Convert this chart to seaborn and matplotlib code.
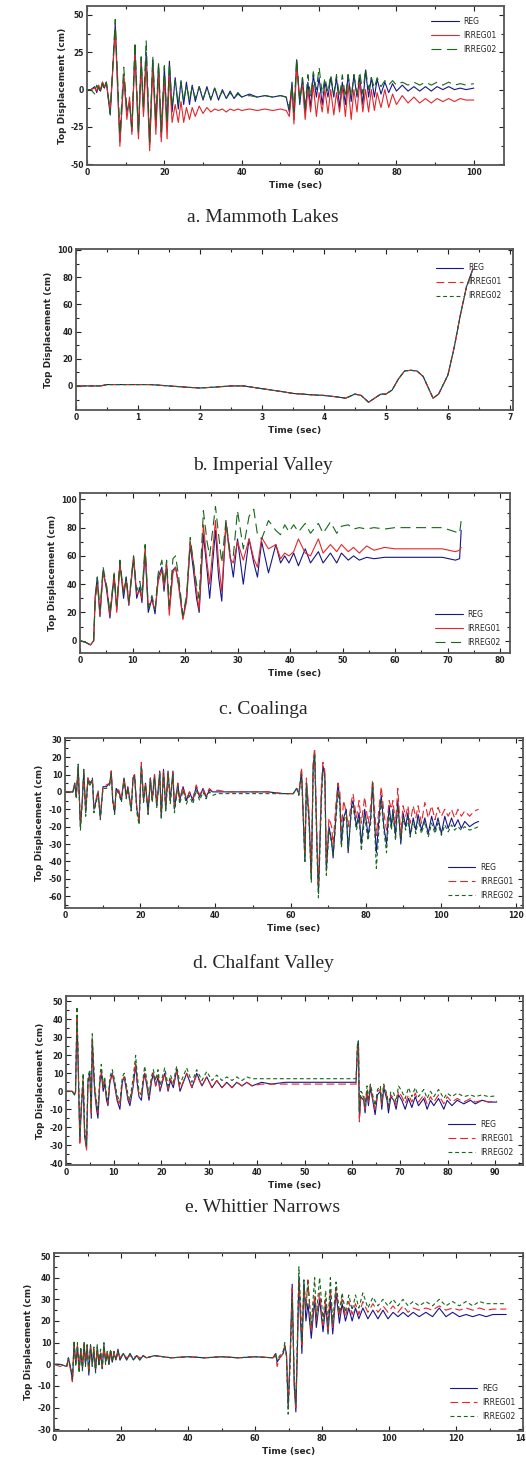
import matplotlib
matplotlib.use("Agg")
import matplotlib.pyplot as plt
import pandas as pd
import seaborn as sns
from matplotlib.ticker import MultipleLocator

sns.set_style("ticks")
plt.rcParams['font.family'] = ['DejaVu Sans']
plt.rcParams['axes.unicode_minus'] = False

# ---------------- a. Mammoth Lakes ----------------
a_time = [0, 1, 2, 2.5, 3, 3.5, 4, 4.5, 5, 6,
          7.3, 8.5, 9.5, 10.3, 11, 11.6, 12.4, 13.3, 14, 14.6,
          15.3, 16.2, 17, 17.8, 18.5, 19.2, 20, 20.7, 21.3, 22,
          22.8, 23.6, 24.3, 25, 25.7, 26.5, 27.2, 28, 29, 30,
          31, 32, 33, 34, 35, 36, 37, 38, 39, 40,
          42, 44, 46, 48, 50, 51.5, 52.3, 53, 53.5, 54.2,
          55, 55.7, 56.4, 57.1, 57.8, 58.5, 59.3, 60, 60.8, 61.5,
          62.3, 63, 63.8, 64.5, 65.3, 66, 66.8, 67.5, 68.3, 69,
          69.8, 70.5, 71.3, 72, 72.8, 73.5, 74.3, 75, 76, 77,
          78, 79, 80, 81.5, 83, 84.5, 86, 87.5, 89, 90.5,
          92, 93.5, 95, 96.5, 98, 100]
a_reg = [0, 0, 2, -2, 2, -1, 5, 1, 5, -17,
         44, -35, 8, -15, -8, -28, 27, -30, 20, -15,
         25, -37, 20, -25, 17, -32, 15, -25, 19, -15,
         8, -13, 6, -10, 5, -10, 3, -8, 2, -7,
         2, -7, 1, -7, 0, -6, -1, -6, -2, -5,
         -3, -5, -4, -5, -4, -5, -15, 5, -20, 20,
         -10, 8, -15, 5, -12, 10, -5, 8, -10, 5,
         -5, 8, -5, 8, -12, 5, -10, 10, -8, 10,
         -5, 8, -10, 13, -5, 8, -5, 7, -3, 5,
         -2, 4, -1, 3, -1, 2, -1, 2, -1, 2,
         0, 2, 0, 1, 0, 1]
a_irreg01 = [0, 0, 1, -1, 3, 0, 5, 2, 5, -14,
             40, -38, 10, -20, -5, -30, 25, -33, 18, -18,
             18, -41, 15, -30, 12, -35, 8, -33, 10, -22,
             -10, -22, -8, -22, -12, -20, -12, -18, -11, -16,
             -12, -15, -13, -14, -13, -15, -13, -14, -13, -14,
             -13, -14, -13, -14, -13, -14, -18, 0, -23, 15,
             -5, 3, -20, 0, -15, 3, -18, -2, -15, 0,
             -16, 0, -17, -2, -15, 2, -18, 3, -20, 0,
             -15, 5, -15, 0, -15, 0, -14, -2, -12, 0,
             -12, -3, -10, -4, -9, -5, -9, -6, -9, -6,
             -8, -6, -8, -6, -7, -7]
a_irreg02 = [0, 0, -3, 3, 1, -2, 4, 0, 5, -16,
             47, -30, 15, -12, -10, -25, 32, -28, 22, -12,
             33, -35, 22, -20, 18, -28, 16, -22, 18, -12,
             6, -10, 5, -8, 3, -7, 2, -6, 2, -6,
             1, -6, 1, -6, -1, -6, -2, -6, -3, -5,
             -4, -5, -4, -5, -4, -5, -12, 3, -15, 21,
             -8, 8, -12, 10, -5, 12, 0, 15, -3, 8,
             -2, 10, -3, 10, -5, 10, -5, 10, -5, 10,
             -3, 12, -3, 14, 0, 8, 1, 8, 2, 6,
             3, 6, 3, 5, 3, 5, 3, 5, 3, 5,
             3, 5, 3, 4, 3, 4]

# ---------------- b. Imperial Valley ----------------
b_time = [0, 0.4, 0.5, 1.0, 1.2, 1.5, 1.8, 2.0, 2.2, 2.5,
          2.7, 3.0, 3.3, 3.5, 3.8, 4.0, 4.2, 4.35, 4.5, 4.6,
          4.72, 4.85, 4.92, 5.0, 5.1, 5.2, 5.3, 5.4, 5.5, 5.6,
          5.7, 5.76, 5.85, 6.0, 6.1, 6.2, 6.3, 6.4]
b_reg = [0, 0, 1, 1, 1, 0, -1, -1.5, -1, 0,
         0, -2, -4, -5.5, -6.5, -7, -8, -9, -6, -7,
         -12, -8, -6, -6, -3, 5, 11, 11.5, 11, 7,
         -3, -9, -6, 8, 28, 52, 73, 86]
b_irreg01 = [0, 0, 1, 1, 1, 0, -1, -1.5, -1, 0,
             0, -2, -4, -5.5, -6.5, -7, -8, -9, -6, -7,
             -12, -8, -6, -6, -3, 5, 11, 11.5, 11, 7,
             -3, -9, -6, 8, 28, 52, 73, 85]
b_irreg02 = [0, 0, 1, 1, 1, 0, -1, -1.5, -1, 0,
             0, -2, -4, -5.5, -6.5, -7, -8, -9, -6, -7,
             -12, -8, -6, -6, -3, 5, 11, 11.5, 11, 7,
             -3, -9, -6, 8, 28, 52, 73, 84]

# ---------------- c. Coalinga ----------------
c_time = [0, 1, 2, 2.6, 2.9, 3.3, 3.8, 4.4, 5.1, 5.7,
          6.5, 7.0, 7.6, 8.3, 8.8, 9.3, 10.2, 10.8, 11.4, 11.8,
          12.4, 13.0, 13.7, 14.3, 14.9, 15.6, 16.0, 16.5, 17.0, 17.7,
          18.2, 18.8, 19.6, 20.3, 21.0, 21.6, 22.2, 22.7, 23.5, 24.2,
          24.7, 25.8, 26.4, 27.0, 27.8, 28.6, 29.2, 30.0, 31.1, 32.2,
          33.1, 33.8, 34.6, 35.9, 37.3, 38.2, 39.0, 39.8, 40.7, 41.6,
          42.9, 43.9, 45.4, 46.3, 47.7, 48.9, 49.8, 51.1, 52.1, 53.2,
          54.6, 56, 58, 60, 63, 66, 69, 71.5, 72.3, 72.6]
c_reg = [0, -1, -3, 0, 32, 45, 17, 50, 35, 16,
         45, 22, 55, 30, 45, 25, 58, 30, 38, 27,
         63, 20, 30, 19, 45, 52, 35, 53, 22, 50,
         52, 40, 16, 30, 68, 50, 30, 20, 75, 50,
         30, 78, 45, 28, 84, 60, 45, 72, 40, 72,
         55, 45, 70, 48, 68, 55, 60, 55, 62, 53,
         65, 55, 63, 55, 62, 55, 62, 57, 60, 57,
         59, 58, 59, 59, 59, 59, 59, 57, 58, 78]
c_irreg01 = [0, -1, -3, 0, 30, 40, 18, 48, 38, 18,
             48, 20, 53, 35, 42, 26, 60, 33, 35, 30,
             65, 25, 28, 22, 42, 50, 38, 55, 18, 48,
             52, 38, 15, 28, 70, 55, 35, 22, 82, 55,
             40, 85, 55, 35, 83, 58, 55, 70, 57, 72,
             58, 52, 73, 65, 68, 58, 62, 60, 63, 72,
             62, 60, 72, 62, 68, 63, 68, 63, 66, 62,
             67, 64, 66, 65, 65, 65, 65, 63, 64, 66]
c_irreg02 = [0, -1, -3, 0, 28, 45, 22, 52, 38, 20,
             47, 25, 57, 33, 45, 28, 60, 35, 42, 32,
             68, 23, 32, 22, 48, 57, 40, 57, 25, 58,
             60, 45, 18, 32, 73, 55, 40, 30, 92, 70,
             60, 95, 75, 55, 85, 62, 60, 92, 65, 88,
             93, 75, 72, 85, 78, 75, 82, 77, 82, 77,
             83, 76, 83, 76, 84, 76, 81, 82, 79, 80,
             79, 80, 79, 80, 80, 80, 80, 77, 76, 85]

# ---------------- d. Chalfant Valley ----------------
d_time = [0, 2.1, 2.6, 3.0, 3.5, 4.1, 4.6, 5.0, 5.5, 6.1,
          6.6, 7.3, 7.7, 8.3, 8.8, 9.4, 10.1, 11.0, 11.9, 12.3,
          12.7, 13.2, 13.6, 14.3, 15.0, 15.7, 16.3, 16.7, 17.6, 18.1,
          18.5, 19.1, 19.7, 20.3, 20.9, 21.4, 22.1, 22.7, 23.2, 23.8,
          24.4, 25.2, 25.6, 26.2, 26.8, 27.4, 28.0, 28.7, 29.1, 30.0,
          30.5, 31.4, 32.3, 33.1, 34.0, 34.9, 35.8, 36.7, 37.5, 38.4,
          39.3, 40.6, 43, 46, 50, 54, 58, 60.7, 61.6, 62.2,
          62.9, 63.8, 64.2, 64.9, 65.5, 66.0, 66.4, 67.0, 67.4, 68.2,
          68.6, 69.1, 69.5, 70.2, 70.9, 71.3, 72.0, 72.6, 73.1, 73.5,
          74.1, 74.8, 75.3, 76.2, 76.6, 77.5, 78.2, 78.8, 79.7, 80.6,
          81.3, 81.8, 82.4, 82.8, 83.7, 84.1, 84.8, 85.5, 86.2, 86.8,
          87.2, 87.9, 88.5, 89.3, 89.9, 90.6, 91.2, 91.8, 92.6, 93.3,
          93.9, 94.8, 95.7, 96.6, 97.5, 98.4, 99.2, 100.1, 101.0, 101.9,
          102.8, 103.6, 104.5, 105.4, 106.3, 107.6, 108.9, 110.0]
d_reg = [0, 0, 5, -3, 15, -20, -5, 12, -12, 8,
         5, 7, -10, -5, 0, -15, 3, 3, 5, 12,
         -5, -12, 2, 0, -5, 8, -3, 3, -10, 8,
         10, -10, -17, 15, -5, 5, -12, 8, -5, 10,
         -8, 12, -15, 13, -10, 12, -5, 12, -10, 5,
         -5, 3, -5, 0, -5, 3, -3, 2, -3, 1,
         0, 0, 0, 0, 0, 0, -1, -1, 2, -1,
         12, -40, 5, -15, -50, 15, 22, -30, -58, 0,
         15, 10, -45, -20, -28, -38, -15, 5, -5, -30,
         -15, -10, -35, -8, -5, -20, -12, -30, -10, -25,
         -15, 5, -20, -35, -10, -2, -20, -30, -8, -20,
         -10, -25, -5, -30, -12, -20, -12, -25, -15, -22,
         -13, -22, -15, -24, -14, -22, -15, -24, -14, -21,
         -15, -20, -16, -21, -17, -20, -18, -17]
d_irreg01 = [0, 0, 4, -2, 13, -18, -4, 11, -10, 8,
             4, 6, -9, -4, 1, -14, 3, 4, 5, 12,
             -4, -11, 2, 1, -4, 8, -2, 3, -9, 8,
             10, -9, -16, 17, -4, 5, -11, 8, -4, 10,
             -7, 11, -13, 12, -9, 12, -4, 11, -8, 5,
             -4, 3, -4, 0, -4, 4, -2, 2, -2, 2,
             0, 1, 0, 0, 0, 0, -1, -1, 2, -1,
             14, -35, 8, -12, -48, 18, 25, -25, -55, 5,
             17, 12, -40, -15, -20, -30, -8, 5, 0, -22,
             -5, -12, -20, -5, -1, -15, -5, -18, -3, -18,
             -8, 7, -12, -25, -5, 3, -12, -22, -5, -10,
             -5, -18, 2, -25, -8, -14, -8, -18, -8, -15,
             -8, -18, -6, -15, -8, -16, -9, -14, -10, -14,
             -10, -15, -10, -14, -11, -14, -11, -10]
d_irreg02 = [0, 0, 5, -4, 16, -22, -6, 13, -14, 7,
             3, 8, -12, -6, -1, -16, 2, 2, 4, 11,
             -6, -13, 1, -1, -6, 7, -4, 2, -11, 7,
             9, -12, -19, 15, -6, 4, -13, 7, -6, 8,
             -9, 10, -15, 11, -11, 10, -7, 10, -12, 3,
             -7, 1, -7, -2, -7, 1, -5, 0, -4, 0,
             -2, -1, -1, -1, -1, -1, -1, -1, 2, -2,
             10, -40, 5, -18, -52, 12, 21, -35, -61, -5,
             12, 8, -48, -22, -30, -37, -18, 0, -8, -32,
             -18, -12, -33, -10, -8, -22, -15, -34, -14, -28,
             -18, 5, -25, -44, -15, -5, -22, -35, -12, -22,
             -12, -28, -8, -28, -15, -22, -15, -26, -17, -24,
             -16, -24, -17, -26, -18, -24, -18, -25, -19, -23,
             -19, -22, -20, -22, -20, -22, -21, -20]

# ---------------- e. Whittier Narrows ----------------
e_time = [0, 1.3, 1.8, 2.0, 2.3, 2.5, 2.9, 3.2, 3.6, 3.9,
          4.3, 4.6, 5.0, 5.3, 5.5, 6.0, 6.4, 6.7, 7.1, 7.4,
          7.8, 8.1, 8.5, 8.8, 9.2, 9.7, 10.2, 10.7, 11.3, 11.8,
          12.2, 12.7, 13.0, 13.4, 14.1, 14.6, 14.9, 15.3, 15.8, 16.2,
          16.5, 17.0, 17.4, 17.9, 18.3, 18.8, 19.3, 19.7, 20.2, 20.7,
          21.4, 21.9, 22.5, 23.2, 23.9, 25.3, 26.4, 27.4, 28.5, 29.5,
          30.6, 31.6, 32.7, 33.7, 34.8, 35.8, 36.9, 37.9, 39.0, 41,
          43, 46, 50, 55, 60.8, 61.1, 61.3, 61.5, 61.8, 62.4,
          62.7, 63.1, 63.4, 63.8, 64.3, 64.8, 65.3, 65.9, 66.2, 66.6,
          67.3, 67.6, 68.1, 68.7, 69.2, 69.7, 70.4, 71.1, 71.8, 72.5,
          73.2, 73.9, 75.0, 75.7, 76.4, 77.1, 78.1, 79.2, 79.9, 80.9,
          82.0, 83.4, 84.8, 85.8, 87.2, 88.6, 90.3]
e_reg = [0, 0, -2, 0, 40, 20, -27, -10, 5, -25,
         -32, 5, 10, -15, 28, 0, -10, -15, 5, 10,
         0, 5, -5, -8, 5, 10, 3, -5, -10, 5,
         8, 0, -5, -8, 3, 15, 5, -3, -5, 5,
         10, 2, -5, 5, 10, 3, 8, 0, 5, 10,
         0, 6, 2, 12, 0, 10, 2, 10, 3, 8,
         2, 6, 2, 5, 2, 5, 3, 5, 3, 5,
         4, 5, 5, 5, 5, 25, 28, -15, -3, -5,
         -12, 0, -8, 2, -5, -13, -2, 0, -10, 2,
         -5, -12, -3, -5, -10, -2, -5, -10, -4, -9,
         -3, -8, -4, -10, -5, -8, -4, -10, -5, -8,
         -5, -7, -5, -7, -5, -6, -6]
e_irreg01 = [0, 0, -2, 0, 42, 22, -30, -8, 8, -22,
             -33, 3, 8, -12, 30, 2, -8, -12, 5, 12,
             2, 6, -4, -7, 5, 10, 4, -4, -8, 6,
             8, 1, -4, -6, 4, 16, 6, -2, -3, 6,
             10, 3, -3, 6, 10, 3, 9, 1, 6, 10,
             1, 7, 3, 11, 1, 10, 2, 9, 3, 8,
             2, 6, 2, 5, 2, 5, 3, 5, 3, 4,
             4, 4, 4, 4, 4, 23, 26, -17, -2, -3,
             -10, 1, -6, 3, -4, -10, 0, 1, -8, 3,
             -3, -9, -2, -4, -8, 0, -3, -7, -2, -6,
             -1, -6, -2, -7, -3, -6, -2, -7, -3, -6,
             -4, -6, -4, -6, -5, -6, -5.5]
e_irreg02 = [0, 0, -2, 0, 47, 25, -25, -8, 10, -20,
             -30, 8, 12, -10, 32, 3, -6, -10, 8, 15,
             3, 8, -2, -5, 8, 12, 6, -2, -6, 8,
             10, 3, -2, -5, 8, 20, 10, 0, -2, 8,
             14, 5, -2, 8, 12, 6, 12, 3, 8, 13,
             3, 9, 5, 14, 4, 13, 5, 12, 6, 11,
             6, 9, 6, 8, 6, 8, 6, 8, 7, 7,
             7, 7, 7, 7, 7, 26, 28, -12, 0, -2,
             -8, 3, -4, 4, -2, -8, 1, 3, -6, 4,
             -2, -8, 0, -1, -6, 3, 0, -4, 2, -3,
             2, -3, 1, -4, 0, -3, 1, -4, -1, -3,
             -1, -3, -2, -3, -2, -3, -2.5]

# ---------------- f. (sixth record) ----------------
f_time = [0, 1.8, 3.8, 4.3, 5.0, 5.5, 6.0, 6.5, 7.0, 7.5,
          8.0, 8.5, 9.0, 9.4, 9.9, 10.4, 10.9, 11.4, 11.9, 12.4,
          12.9, 13.4, 13.9, 14.4, 14.9, 15.4, 15.9, 16.4, 16.9, 17.4,
          17.9, 18.5, 19.1, 19.7, 20.7, 21.7, 22.7, 23.7, 24.7, 25.6,
          26.6, 27.6, 30, 35, 40, 45, 50, 55, 60, 65.4,
          66.2, 66.6, 67.4, 68.4, 68.9, 69.4, 69.9, 70.5, 71.1, 71.7,
          72.2, 72.7, 73.1, 73.6, 74.0, 74.6, 75.2, 75.8, 76.8, 77.8,
          78.3, 79.3, 80.3, 81.1, 81.8, 82.5, 83.2, 84.2, 85.2, 86.0,
          87.0, 88.0, 89.0, 90.0, 91.0, 92.2, 93.7, 95.2, 96.7, 98.2,
          99.7, 101.2, 102.7, 104.2, 105.7, 107.2, 109, 111, 113, 115,
          117, 119, 121, 123, 125, 127, 129, 131, 135]
f_reg = [0, 0, -1, 3, -2, -8, 10, 0, 8, -3,
         6, -2, 10, 0, 8, -5, 9, 0, 6, -3,
         8, 0, 5, -2, 9, 1, 5, 0, 6, 1,
         5, 2, 7, 2, 5, 2, 5, 2, 4, 2,
         4, 3, 4, 3, 3.5, 3, 3.5, 3, 3.5, 3,
         5, 1, 3, 5, 8, 5, -20, 5, 37, -10,
         -22, 10, 40, 20, 5, 38, 20, 28, 12, 30,
         17, 30, 15, 27, 14, 30, 14, 33, 19, 28,
         20, 26, 20, 26, 21, 26, 21, 25, 21, 25,
         21, 24, 22, 24, 22, 24, 22, 24, 22, 26,
         22, 24, 22, 23, 22, 23, 22, 23, 23]
f_irreg01 = [0, -1, -1, 2, -3, -8, 8, 1, 9, -2,
             7, -1, 9, 1, 9, -4, 8, 1, 7, -2,
             7, 1, 6, -1, 8, 2, 6, 1, 7, 2,
             5, 2, 6, 3, 5, 3, 4, 3, 4, 3,
             4, 3, 4, 3, 3.5, 3, 3.5, 3, 3.5, 3,
             4, -1, 3, 5, 9, 4, -18, 3, 35, -8,
             -20, 12, 38, 25, 8, 35, 25, 39, 15, 32,
             20, 33, 18, 30, 16, 35, 17, 35, 22, 30,
             22, 29, 23, 28, 23, 29, 24, 28, 24, 27,
             24, 27, 24, 27, 24, 26, 25, 26, 25, 27,
             25, 26, 25, 26, 25, 26, 25, 25.5, 25.5]
f_irreg02 = [0, 0, -1, 3, -2, -6, 11, -1, 10, -4,
             8, -3, 10, -1, 9, -3, 9, -1, 8, -4,
             9, -1, 7, -2, 10, 0, 6, 0, 7, 1,
             6, 2, 6, 2, 5, 2, 5, 2, 4, 2,
             4, 3, 4, 3, 3.5, 3, 3.5, 3, 3.5, 3,
             5, 2, 4, 6, 10, 3, -23, 0, 30, -5,
             -18, 15, 45, 28, 10, 39, 26, 38, 18, 40,
             22, 40, 20, 34, 18, 40, 19, 38, 24, 33,
             24, 32, 25, 32, 26, 33, 26, 31, 27, 30,
             27, 30, 27, 30, 27, 29, 27, 29, 27, 30,
             27, 29, 27, 29, 27, 29, 28, 28, 28]

series_names = ["REG", "IRREG01", "IRREG02"]
captions = ["a. Mammoth Lakes", "b. Imperial Valley", "c. Coalinga",
            "d. Chalfant Valley", "e. Whittier Narrows"]

# ---------------- layout / style ----------------
W, H = 526, 1464
fig = plt.figure(figsize=(W / 100, H / 100), dpi=100)

C_REG = "#16168a"
C_IR1 = "#e3262a"
C_IR2 = "#17661a"
SOLID = "-"
LONG = (0, (7, 3.5))
SHORT = (0, (3.5, 2.5))
GREEN_LONG = (0, (9, 5))

panels = [
    dict(data=(a_time, a_reg, a_irreg01, a_irreg02), box=(87, 504, 6, 165),
         xlim=(0, 107.8), ylim=(-50.5, 56), xmaj=20, xmin=10, ymaj=25, ymin=12.5,
         styles=(SOLID, SOLID, GREEN_LONG), leg=("upper right", (0.99, 0.95)), cap=218),
    dict(data=(b_time, b_reg, b_irreg01, b_irreg02), box=(76, 513, 249, 410),
         xlim=(0, 7.05), ylim=(-17.7, 100.7), xmaj=1, xmin=0.5, ymaj=20, ymin=10,
         styles=(SOLID, LONG, SHORT), leg=("upper right", (0.98, 0.93)), cap=465),
    dict(data=(c_time, c_reg, c_irreg01, c_irreg02), box=(80, 510, 493, 653),
         xlim=(0, 81.9), ylim=(-8.7, 104.5), xmaj=10, xmin=5, ymaj=20, ymin=10,
         styles=(SOLID, SOLID, GREEN_LONG), leg=("lower right", (0.985, 0.02)), cap=710),
    dict(data=(d_time, d_reg, d_irreg01, d_irreg02), box=(65, 523, 738, 908),
         xlim=(0, 121.8), ylim=(-66.8, 31), xmaj=20, xmin=10, ymaj=10, ymin=5,
         styles=(SOLID, LONG, SHORT), leg=("lower right", (0.985, 0.03)), cap=963),
    dict(data=(e_time, e_reg, e_irreg01, e_irreg02), box=(66, 523, 996, 1165),
         xlim=(0, 95.8), ylim=(-41, 53), xmaj=10, xmin=5, ymaj=10, ymin=5,
         styles=(SOLID, LONG, SHORT), leg=("lower right", (0.985, 0.03)), cap=1207),
    dict(data=(f_time, f_reg, f_irreg01, f_irreg02), box=(54, 523, 1253, 1431),
         xlim=(0, 140), ylim=(-30.8, 51.4), xmaj=20, xmin=10, ymaj=10, ymin=5,
         styles=(SOLID, LONG, SHORT), leg=("lower right", (0.99, 0.04)), cap=None),
]

colors = (C_REG, C_IR1, C_IR2)

for i, p in enumerate(panels):
    l, r, t, b = p["box"]
    ax = fig.add_axes([l / W, 1 - b / H, (r - l) / W, (b - t) / H])
    tt, s1, s2, s3 = p["data"]
    df = pd.DataFrame({"Time": tt, "REG": s1, "IRREG01": s2, "IRREG02": s3})
    for name, col, ls in zip(series_names, colors, p["styles"]):
        sns.lineplot(data=df, x="Time", y=name, ax=ax, color=col, linestyle=ls,
                     linewidth=0.8, label=name, errorbar=None, sort=False)
    ax.set_xlim(*p["xlim"])
    ax.set_ylim(*p["ylim"])
    ax.xaxis.set_major_locator(MultipleLocator(p["xmaj"]))
    ax.xaxis.set_minor_locator(MultipleLocator(p["xmin"]))
    ax.yaxis.set_major_locator(MultipleLocator(p["ymaj"]))
    ax.yaxis.set_minor_locator(MultipleLocator(p["ymin"]))
    ax.tick_params(which="both", direction="in", top=True, right=True,
                   labelsize=5.5, pad=2, width=0.8, colors="#222222")
    ax.tick_params(which="major", length=3.5)
    ax.tick_params(which="minor", length=2)
    for lbl in ax.get_xticklabels() + ax.get_yticklabels():
        lbl.set_fontweight("bold")
    for sp in ax.spines.values():
        sp.set_color("#555555")
        sp.set_linewidth(1.3)
    ax.set_xlabel("Time (sec)", fontsize=6.5, fontweight="bold", labelpad=3)
    ax.set_ylabel("Top Displacement (cm)", fontsize=6.5, fontweight="bold", labelpad=3)
    loc, anchor = p["leg"]
    ax.legend(loc=loc, bbox_to_anchor=anchor, frameon=False, fontsize=5.5,
              handlelength=3.6, labelspacing=0.65, handletextpad=0.6, borderaxespad=0)
    if p["cap"] is not None:
        fig.text(263 / W, 1 - p["cap"] / H, captions[i], ha="center", va="center",
                 fontsize=14, family="Liberation Serif")

fig.savefig("out.png", dpi=100)
